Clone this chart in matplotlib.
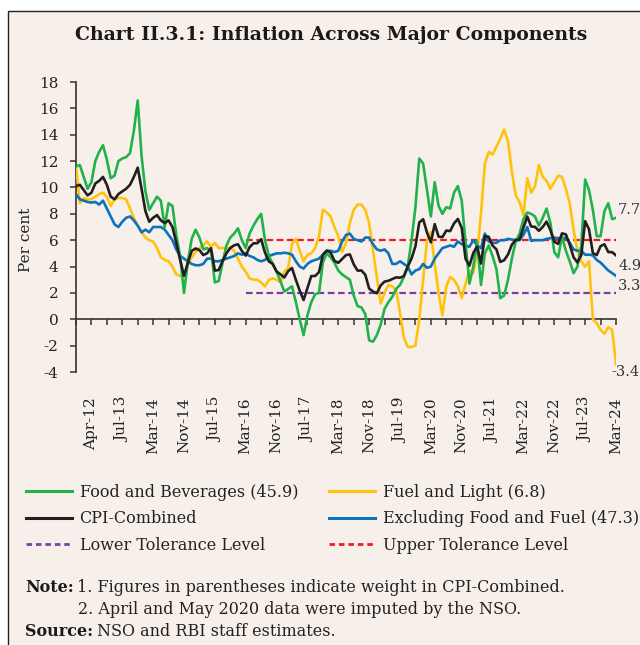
import numpy as np
import matplotlib
matplotlib.use("Agg")
import matplotlib.pyplot as plt
from matplotlib.patches import Rectangle
from matplotlib.lines import Line2D

plt.rcParams['font.family'] = ['DejaVu Serif']

# Monthly y-o-y inflation (per cent), first point Jul-12 ... last point Mar-24
food = [11.6, 11.7, 10.8, 9.9, 10.4, 12.0, 12.7, 13.2, 12.1, 10.7, 10.9, 12.0, 12.2, 12.3, 12.6, 14.3,
        16.6, 12.4, 9.7, 8.3, 8.8, 9.3, 9.0, 7.0, 8.8, 8.6, 6.4, 4.8, 2.0, 4.4, 6.1, 6.8,
        6.2, 5.3, 5.4, 5.2, 2.8, 2.9, 4.3, 5.6, 6.2, 6.5, 6.9, 6.0, 5.4, 6.5, 7.1, 7.6,
        8.0, 6.0, 4.8, 4.2, 3.6, 2.9, 2.1, 2.3, 2.5, 1.3, 0.0, -1.2, 0.3, 1.3, 1.9, 2.0,
        4.3, 5.0, 4.7, 4.3, 3.7, 3.4, 3.2, 3.0, 1.8, 1.0, 0.9, 0.4, -1.6, -1.7, -1.2, -0.4,
        0.8, 1.3, 1.7, 2.3, 2.6, 3.2, 4.0, 6.0, 8.5, 12.2, 11.8, 9.8, 7.8, 10.4, 8.6, 8.0,
        8.5, 8.4, 9.6, 10.1, 9.0, 5.8, 2.7, 4.0, 5.9, 2.6, 5.0, 5.6, 4.8, 3.8, 1.6, 1.8,
        3.0, 4.6, 5.9, 6.5, 7.6, 8.1, 8.0, 7.8, 7.1, 7.7, 8.4, 7.3, 5.1, 4.7, 6.3, 5.2,
        4.4, 3.5, 4.0, 5.6, 10.6, 9.8, 8.3, 6.3, 6.3, 8.2, 8.8, 7.6, 7.7]

fuel = [11.6, 8.8, 9.2, 9.1, 9.1, 9.3, 9.5, 9.6, 9.3, 8.6, 9.1, 9.2, 9.2, 9.1, 8.4, 7.7,
        7.1, 6.6, 6.2, 6.0, 5.9, 5.4, 4.7, 4.5, 4.4, 4.0, 3.4, 3.3, 3.3, 4.1, 4.7, 5.1,
        5.4, 5.6, 5.9, 5.5, 5.8, 5.4, 5.4, 5.4, 5.4, 5.2, 4.6, 4.0, 3.6, 3.1, 3.0, 3.0,
        2.8, 2.5, 3.0, 3.1, 3.0, 2.8, 3.6, 3.9, 5.7, 6.1, 5.2, 4.4, 4.9, 5.0, 5.4, 6.3,
        8.3, 8.1, 7.8, 7.0, 6.3, 5.1, 5.8, 7.3, 8.3, 8.7, 8.7, 8.3, 7.3, 5.2, 3.2, 1.2,
        2.0, 2.6, 2.5, 2.2, 0.5, -1.4, -2.1, -2.1, -2.0, 0.0, 3.0, 6.0, 6.6, 4.2, 2.0, 0.3,
        2.5, 3.2, 3.0, 2.5, 1.6, 2.7, 3.7, 3.5, 5.0, 8.0, 11.8, 12.7, 12.5, 13.1, 13.7, 14.4,
        13.5, 11.2, 9.4, 8.9, 7.9, 10.7, 9.6, 10.1, 11.7, 10.8, 10.5, 9.9, 10.4, 10.9, 10.8, 9.9,
        8.8, 6.8, 5.2, 4.4, 4.0, 4.4, 0.0, -0.3, -0.8, -1.1, -0.6, -0.8, -3.4]

cpi = [10.1, 10.2, 9.8, 9.4, 9.6, 10.3, 10.5, 10.8, 10.2, 9.3, 9.1, 9.5, 9.7, 9.9, 10.2, 10.8,
       11.5, 9.9, 8.2, 7.4, 7.7, 7.9, 7.5, 7.3, 7.5, 7.0, 5.8, 4.5, 3.3, 4.3, 5.19, 5.37,
       5.25, 4.87, 5.01, 5.40, 3.69, 3.74, 4.41, 5.00, 5.41, 5.61, 5.69, 5.18, 4.83, 5.47, 5.76, 5.77,
       6.07, 5.05, 4.39, 4.20, 3.63, 3.41, 3.17, 3.65, 3.89, 2.99, 2.18, 1.46, 2.36, 3.28, 3.28, 3.58,
       4.88, 5.21, 5.07, 4.44, 4.28, 4.58, 4.87, 4.92, 4.17, 3.69, 3.70, 3.38, 2.33, 2.11, 1.97, 2.57,
       2.86, 2.92, 3.05, 3.18, 3.15, 3.28, 3.99, 4.62, 5.54, 7.35, 7.59, 6.58, 5.84, 7.22, 6.27, 6.23,
       6.73, 6.69, 7.27, 7.61, 6.93, 4.59, 4.06, 5.03, 5.52, 4.23, 6.30, 6.26, 5.59, 5.30, 4.35, 4.48,
       4.91, 5.66, 6.01, 6.07, 6.95, 7.79, 7.04, 7.01, 6.71, 7.00, 7.41, 6.77, 5.88, 5.72, 6.52, 6.44,
       5.66, 4.70, 4.31, 4.87, 7.44, 6.83, 5.02, 4.87, 5.55, 5.69, 5.10, 5.09, 4.85]

core = [9.5, 9.1, 9.0, 8.9, 8.85, 8.9, 8.7, 9.0, 8.4, 7.8, 7.2, 7.0, 7.4, 7.7, 7.8, 7.5,
        7.1, 6.6, 6.8, 6.6, 7.0, 7.0, 7.0, 6.8, 6.4, 6.0, 5.3, 4.8, 4.6, 4.4, 4.2, 4.1,
        4.1, 4.2, 4.6, 4.6, 4.4, 4.4, 4.5, 4.6, 4.7, 4.8, 5.0, 4.9, 5.0, 4.8, 4.7, 4.5,
        4.4, 4.5, 4.8, 4.9, 5.0, 5.0, 5.05, 5.0, 4.9, 4.4, 4.0, 3.85, 4.2, 4.4, 4.5, 4.6,
        4.9, 5.2, 5.2, 5.1, 5.2, 5.9, 6.4, 6.5, 6.1, 6.0, 5.9, 6.2, 6.2, 5.7, 5.3, 5.2,
        5.3, 5.0, 4.2, 4.2, 4.4, 4.2, 4.0, 3.4, 3.7, 3.8, 4.2, 3.9, 4.0, 4.6, 5.0, 5.4,
        5.5, 5.6, 5.5, 5.9, 5.7, 5.6, 5.5, 6.0, 5.6, 5.4, 6.5, 5.9, 5.8, 5.8, 6.0, 6.0,
        6.1, 6.05, 6.0, 6.0, 6.4, 7.0, 5.95, 6.0, 6.0, 6.0, 6.1, 6.15, 6.2, 6.15, 6.1, 6.2,
        5.8, 5.3, 5.2, 5.2, 4.9, 4.9, 4.85, 4.5, 4.3, 4.0, 3.7, 3.5, 3.3]

tol_start = 44                      # Mar-16
lower_tol = [2.0] * (len(cpi) - tol_start)
upper_tol = [6.0] * (len(cpi) - tol_start)

tick_labels = ["Apr-12", "Jul-13", "Mar-14", "Nov-14", "Jul-15", "Mar-16", "Nov-16", "Jul-17",
               "Mar-18", "Nov-18", "Jul-19", "Mar-20", "Nov-20", "Jul-21", "Mar-22", "Nov-22",
               "Jul-23", "Mar-24"]

end_labels = {"food": "7.7", "cpi": "4.9", "core": "3.3", "fuel": "-3.4"}

C_FOOD = "#21B24B"
C_FUEL = "#FFC20E"
C_CPI = "#231F20"
C_CORE = "#0B72BD"
C_LOW = "#7A3FA0"
C_UP = "#ED1C24"
BG = "#F7F0EA"

W, H = 640, 645
fig = plt.figure(figsize=(W / 100, H / 100), dpi=100)
fig.patch.set_facecolor("white")
fig.patches.append(Rectangle((8 / W, -0.05), 1.2, 1 - 11 / H + 0.05, transform=fig.transFigure,
                             facecolor=BG, edgecolor="#222222", linewidth=1.0, zorder=-10))

ax = fig.add_axes([76 / W, 1 - 372 / H, 540 / W, 290 / H])
ax.set_facecolor("none")

n = len(cpi)
x = np.arange(n)
xt = np.arange(tol_start, n)
lw = 1.9
ax.plot(xt, lower_tol, color=C_LOW, lw=1.6, dashes=(3.0, 1.6), zorder=2)
ax.plot(xt, upper_tol, color=C_UP, lw=1.6, dashes=(3.0, 1.6), zorder=2)
ax.plot(x, fuel, color=C_FUEL, lw=lw, zorder=3)
ax.plot(x, core, color=C_CORE, lw=lw, zorder=4)
ax.plot(x, food, color=C_FOOD, lw=lw, zorder=5)
ax.plot(x, cpi, color=C_CPI, lw=lw, zorder=6)

ax.set_xlim(0, n - 1)
ax.set_ylim(-4, 18)
ax.set_yticks(np.arange(-4, 19, 2))
ax.set_yticklabels([str(v) for v in range(-4, 19, 2)])

major = np.arange(4, n, 8)
minor = np.arange(0, n, 8)
ax.set_xticks(major)
ax.set_xticklabels(tick_labels)
ax.set_xticks(minor, minor=True)

for s in ["top", "right"]:
    ax.spines[s].set_visible(False)
ax.spines["bottom"].set_position(("data", 0))
ax.spines["bottom"].set_color("#333333")
ax.spines["left"].set_color("#333333")
ax.spines["bottom"].set_linewidth(1.2)
ax.spines["left"].set_linewidth(1.2)
ax.tick_params(axis="y", direction="out", length=4.5, width=1.1, color="#333333",
               labelsize=11, pad=8, labelcolor="#222222")
ax.tick_params(axis="x", which="both", direction="out", length=4, width=1.1, color="#333333")
ax.tick_params(axis="x", which="major", labelsize=11, pad=52, labelcolor="#222222",
               labelrotation=90)

# end-of-series labels
ann = dict(textcoords="offset points", fontsize=10.5, color="#333333", va="center", ha="left",
           annotation_clip=False)
ax.annotate(end_labels["food"], (n - 1, food[-1]), xytext=(1.5, 5.5), **ann)
ax.annotate(end_labels["cpi"], (n - 1, cpi[-1]), xytext=(1.5, -7.5), **ann)
ax.annotate(end_labels["core"], (n - 1, core[-1]), xytext=(1.5, -7.5), **ann)
ax.annotate(end_labels["fuel"], (n - 1, fuel[-1]), xytext=(-3.2, -6.0), **ann)

fig.text(331 / W, 1 - 35 / H, "Chart II.3.1: Inflation Across Major Components",
         ha="center", va="center", fontsize=13.6, fontweight="bold", color="#1a1a1a")
fig.text(26 / W, 1 - 240 / H, "Per cent", rotation=90, ha="center", va="center",
         fontsize=11, color="#222222")

# legend (two columns)
h1 = [Line2D([], [], color=C_FOOD, lw=2.2), Line2D([], [], color=C_CPI, lw=2.2),
      Line2D([], [], color=C_LOW, lw=2.0, dashes=(2.0, 1.4))]
l1 = ["Food and Beverages (45.9)", "CPI-Combined", "Lower Tolerance Level"]
h2 = [Line2D([], [], color=C_FUEL, lw=2.2), Line2D([], [], color=C_CORE, lw=2.2),
      Line2D([], [], color=C_UP, lw=2.0, dashes=(2.0, 1.4))]
l2 = ["Fuel and Light (6.8)", "Excluding Food and Fuel (47.3)", "Upper Tolerance Level"]
common = dict(frameon=False, fontsize=11.5, handlelength=2.9, handletextpad=0.45,
              labelspacing=0.58, borderpad=0, borderaxespad=0, loc="upper left")
leg1 = fig.legend(h1, l1, bbox_to_anchor=(26 / W, 1 - 484 / H), **common)
leg2 = fig.legend(h2, l2, bbox_to_anchor=(329 / W, 1 - 484 / H), **common)
for lg in (leg1, leg2):
    for t in lg.get_texts():
        t.set_color("#222222")

fs = 11.5
fig.text(25 / W, 1 - 588 / H, "Note:", fontweight="bold", fontsize=fs, va="center", color="#1a1a1a")
fig.text(77 / W, 1 - 588 / H, "1. Figures in parentheses indicate weight in CPI-Combined.",
         fontsize=fs, va="center", color="#222222")
fig.text(78 / W, 1 - 609 / H, "2. April and May 2020 data were imputed by the NSO.",
         fontsize=fs, va="center", color="#222222")
fig.text(25 / W, 1 - 631 / H, "Source:", fontweight="bold", fontsize=fs, va="center", color="#1a1a1a")
fig.text(97 / W, 1 - 631 / H, "NSO and RBI staff estimates.", fontsize=fs, va="center",
         color="#222222")

fig.savefig("out.png", dpi=100, facecolor=fig.get_facecolor())
